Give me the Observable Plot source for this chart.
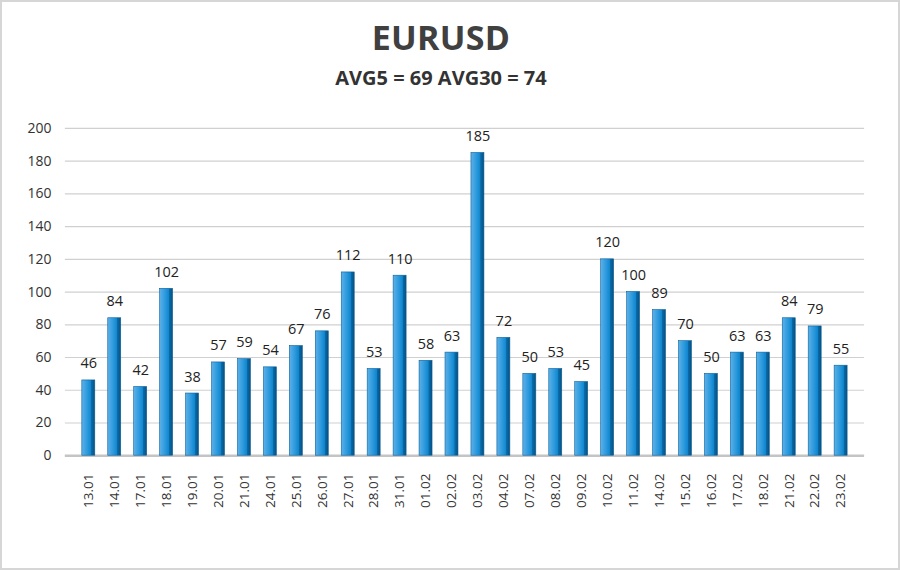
<!DOCTYPE html>
<html>
<head>
<meta charset="utf-8">
<script src="https://cdn.jsdelivr.net/npm/d3@7"></script>
<script src="https://cdn.jsdelivr.net/npm/@observablehq/plot@0.6"></script>
<style>
  html, body { margin: 0; padding: 0; background: #fff; }
  #wrap { position: relative; width: 900px; height: 570px; box-sizing: border-box; border: 2px solid #d6d6d6; background: #fff; overflow: hidden; }
  #title { position: absolute; left: 0; right: 18px; top: 12px; text-align: center; font-family: "Open Sans", sans-serif; font-weight: 700; font-size: 34px; color: #404040; letter-spacing: 0.3px; }
  #subtitle { position: absolute; left: 0; right: 18px; top: 62px; text-align: center; font-family: "Open Sans", sans-serif; font-weight: 700; font-size: 20px; color: #333; }
  #chart { position: absolute; left: -2px; top: 98px; }
</style>
</head>
<body>
<div id="wrap">
  <div id="title">EURUSD</div>
  <div id="subtitle">AVG5 = 69 AVG30 = 74</div>
  <div id="chart"></div>
</div>
<script>
const dates = ["13.01","14.01","17.01","18.01","19.01","20.01","21.01","24.01","25.01","26.01","27.01","28.01","31.01","01.02","02.02","03.02","04.02","07.02","08.02","09.02","10.02","11.02","14.02","15.02","16.02","17.02","18.02","21.02","22.02","23.02"];
const values = [46,84,42,102,38,57,59,54,67,76,112,53,110,58,63,185,72,50,53,45,120,100,89,70,50,63,63,84,79,55];
const yTicks = [0,20,40,60,80,100,120,140,160,180,200];

const data = dates.map((d, i) => ({date: d, value: values[i]}));

const chart = Plot.plot({
  width: 900,
  height: 470,
  marginTop: 28,
  marginBottom: 114,
  marginLeft: 65,
  marginRight: 34,
  style: {fontFamily: "'Open Sans', sans-serif", background: "transparent"},
  x: {domain: dates, padding: 0.5, label: null},
  y: {domain: [0, 200], ticks: yTicks, label: null},
  marks: [
    Plot.gridY(yTicks, {stroke: "#d0d0d0", strokeOpacity: 1, strokeWidth: 1.2}),
    Plot.ruleY([0], {stroke: "#c4c4c4", strokeWidth: 2.5}),
    Plot.barY(data, {x: "date", y: "value", fill: "url(#barGrad)", stroke: "#0a5f99", strokeWidth: 0.6}),
    Plot.text(data, {x: "date", y: "value", text: d => String(d.value), lineAnchor: "bottom", dy: -12, fontSize: 14.5, fill: "#222"}),
    Plot.axisY({ticks: yTicks, tickSize: 0, tickPadding: 14, fontSize: 14, fill: "#333"}),
    Plot.axisX({tickSize: 0, tickPadding: 18, tickRotate: -90, fontSize: 13.5, fill: "#333"})
  ]
});

const ns = "http://www.w3.org/2000/svg";
const defs = document.createElementNS(ns, "defs");
const grad = document.createElementNS(ns, "linearGradient");
grad.setAttribute("id", "barGrad");
grad.setAttribute("x1", "0"); grad.setAttribute("x2", "1");
grad.setAttribute("y1", "0"); grad.setAttribute("y2", "0");
[["0%", "#5db1e8"], ["45%", "#2a98dc"], ["72%", "#0f86cf"], ["74%", "#0a6cab"], ["100%", "#08507f"]].forEach(([o, c]) => {
  const s = document.createElementNS(ns, "stop");
  s.setAttribute("offset", o); s.setAttribute("stop-color", c);
  grad.appendChild(s);
});
defs.appendChild(grad);
chart.insertBefore(defs, chart.firstChild);
document.getElementById("chart").appendChild(chart);
</script>
</body>
</html>
